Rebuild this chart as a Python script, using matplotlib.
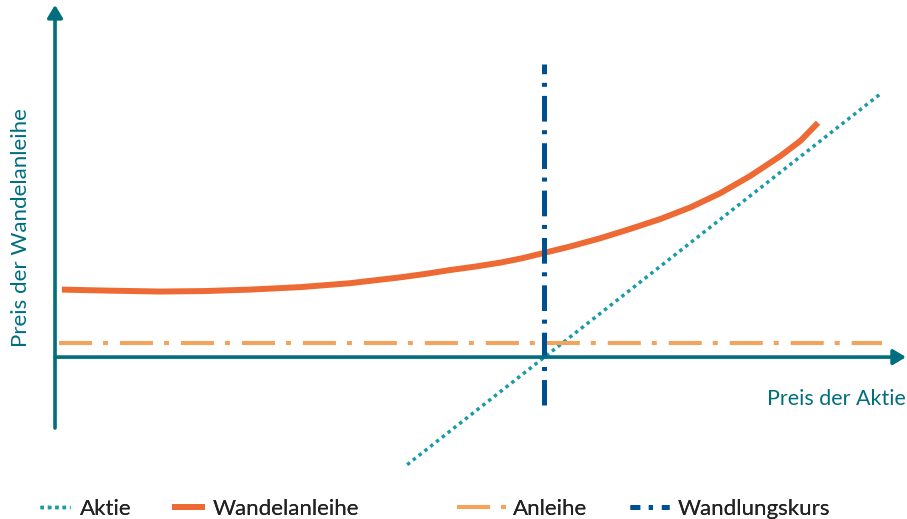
import matplotlib
matplotlib.use("Agg")
import matplotlib.pyplot as plt

plt.rcParams["font.family"] = ["Lato", "DejaVu Sans"]
plt.rcParams["lines.scale_dashes"] = False

# price of the stock, conversion price at 100
stock_x = [72, 169]
stock_y = [-22, 54]

conv_x = [1.4, 10.2, 21.5, 30.7, 39.9, 50.1, 60.3, 65.4, 70.6, 75.7, 80.8, 85.9,
          91.0, 95.5, 100.0, 105.3, 111.5, 117.6, 123.7, 129.9, 136.0, 142.1,
          148.3, 152.4, 156.0]
conv_y = [13.8, 13.6, 13.4, 13.5, 13.8, 14.3, 15.1, 15.7, 16.3, 17.0, 17.8, 18.5,
          19.3, 20.2, 21.3, 22.6, 24.3, 26.2, 28.2, 30.6, 33.5, 37.0,
          41.1, 44.2, 47.9]

bond_x = [0.8, 169]
bond_y = [2.9, 2.9]

strike_x = [100, 100]
strike_y = [59.9, -9.8]

x_axis_end = 174
y_axis_range = (-14.5, 72)

labels = ["Aktie", "Wandelanleihe", "Anleihe", "Wandlungskurs"]

teal = "#006e7d"
c_stock = "#1b9ba8"
c_conv = "#ee6a35"
c_bond = "#f5a35a"
c_strike = "#00508f"

fig = plt.figure(figsize=(9.07, 5.19), dpi=100)
ax = fig.add_axes([0, 0, 1, 1])
ax.set_xlim(-11.25, 174.2)
ax.set_ylim(-33.1, 73.0)
ax.axis("off")

# axes with arrows
arrow = dict(arrowstyle="-|>,head_length=0.5,head_width=0.3", color=teal, lw=2.6,
             shrinkA=0, shrinkB=0, mutation_scale=15)
ax.annotate("", xy=(x_axis_end, 0), xytext=(0, 0), arrowprops=arrow)
ax.annotate("", xy=(0, y_axis_range[1]), xytext=(0, y_axis_range[0]), arrowprops=arrow)

l_stock, = ax.plot(stock_x, stock_y, color=c_stock, lw=2.5,
                   dashes=(2.5, 2.8), dash_capstyle="butt")
l_conv, = ax.plot(conv_x, conv_y, color=c_conv, lw=4.3, solid_capstyle="butt",
                  solid_joinstyle="round")
l_bond, = ax.plot(bond_x, bond_y, color=c_bond, lw=2.9,
                  dashes=(23.8, 7.9, 3.6, 8.6), dash_capstyle="butt")
l_strike, = ax.plot(strike_x, strike_y, color=c_strike, lw=3.6,
                    linestyle=(11.5, (18.5, 6.2, 2.9, 6.5)), dash_capstyle="butt")

fig.text(21 / 907, 1 - 228 / 519, "Preis der Wandelanleihe", rotation=90,
         ha="center", va="center", color=teal, fontsize=16)
fig.text(906 / 907, 1 - 399 / 519, "Preis der Aktie", ha="right", va="center",
         color=teal, fontsize=15.5)

# legend: one small legend per entry, placed like the original
handles = [l_stock, l_conv, l_bond, l_strike]
leg_x = [40, 172, 457, 630]
leg_len = [1.35, 1.5, 2.2, 1.75]
leg_pad = [0.45, 0.35, 0.3, 0.4]
for h, lab, lx, hl, pad in zip(handles, labels, leg_x, leg_len, leg_pad):
    leg = fig.legend([h], [lab], loc="lower left", bbox_to_anchor=(lx / 907, 0.0),
                     frameon=False, borderpad=0, borderaxespad=0, handlelength=hl,
                     handletextpad=pad, fontsize=16)
    for t in leg.get_texts():
        t.set_color("#222222")
    fig.add_artist(leg)

fig.savefig("out.png", dpi=100)
